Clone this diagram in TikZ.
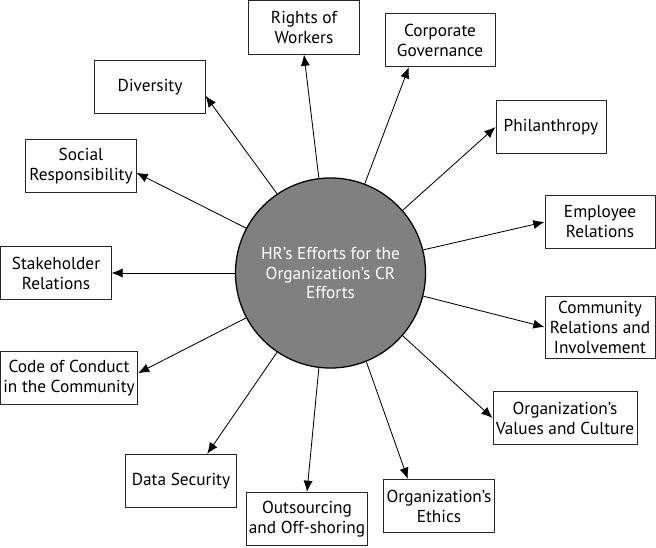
\documentclass[tikz,border=0pt]{standalone}
\usepackage{fontspec}
\setsansfont{PT Sans}
\usepackage{tikz}
\usetikzlibrary{arrows.meta}

\begin{document}
\begin{tikzpicture}[x=0.025cm,y=-0.025cm,
    box/.style={draw=black!85,line width=0.7pt,fill=white,align=center,inner sep=2pt,minimum width=2.75cm,minimum height=1.33cm,font=\sffamily\fontsize{12.3}{14.2}\selectfont},
    hub/.style={circle,draw=black,line width=0.9pt,fill=black!50,text=white,align=center,minimum size=4.75cm,inner sep=0pt,font=\sffamily\fontsize{12.3}{14.2}\selectfont},
    tip/.style={-{Latex[length=2.8mm,width=2.3mm]},line width=0.6pt}]
                      \useasboundingbox(0,0)rectangle(656,547);
                      % centre
                      \node[hub](hub)at(330.5,273){HR’s Efforts for the\\Organization’s CR\\Efforts};
                      % boxes round it
                      \node[box](rights)at(304,27.5){Rights of\\Workers};
                      \node[box](corp)at(440,40){Corporate\\Governance};
                      \node[box](div)at(150,87){Diversity};
                      \node[box](phil)at(551,127){Philanthropy};
                      \node[box](soc)at(81,166){Social\\Responsibility};
                      \node[box](emp)at(600,222){Employee\\Relations};
                      \node[box](stake)at(56,273){Stakeholder\\Relations};
                      \node[box,minimum height=1.55cm](comm)at(600,327){Community\\Relations and\\Involvement};
                      \node[box,minimum width=3.35cm](code)at(69,378){Code of Conduct\\in the Community};
                      \node[box,minimum width=3.42cm](val)at(565,418){Organization’s\\Values and Culture};
                      \node[box](data)at(181,481){Data Security};
                      \node[box,minimum width=2.9cm](out)at(307,519){Outsourcing\\and Off-shoring};
                      \node[box](eth)at(439,506){Organization’s\\Ethics};
                      % arrows
                      \foreach \a/\b in {97/rights.south,69/corp.221,124/div.-9,41/phil.west,152/soc.-7,14/emp.west,180/stake.east,346/comm.west,208/code.4,319/val.west,236/data.46,263/out.north,292/eth.139}
                        \draw[tip](hub.\a)--(\b);
                  \end{tikzpicture}
\end{document}
